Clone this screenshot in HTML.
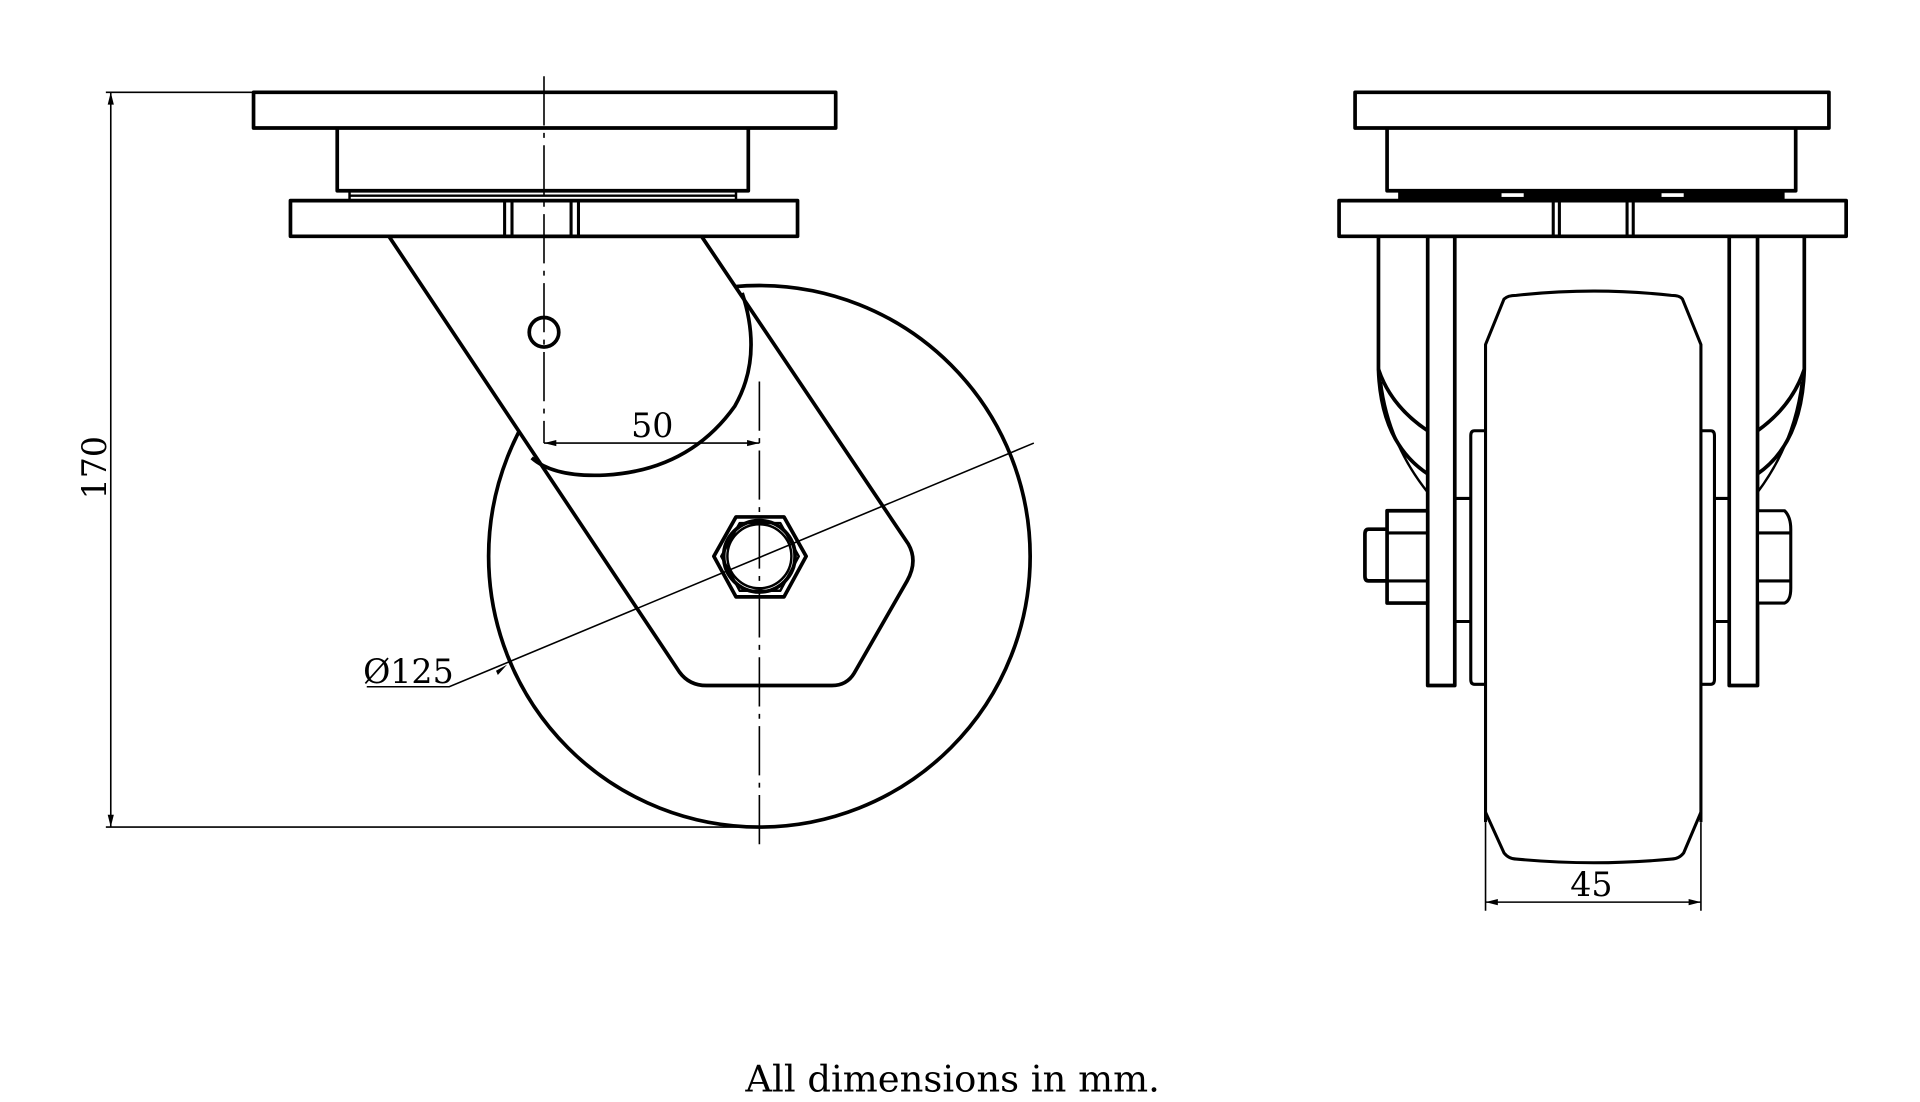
<!DOCTYPE html>
<html><head><meta charset="utf-8"><style>
html,body{margin:0;padding:0;background:#fff;}
svg{display:block;}
text{font-family:"DejaVu Serif","Liberation Serif",serif;fill:#000;}
</style></head><body>
<svg width="1920" height="1102" viewBox="0 0 1560 895.4" preserveAspectRatio="none" xmlns="http://www.w3.org/2000/svg">
<g fill="none" stroke="#000" stroke-width="3" stroke-linejoin="round">
<!-- LEFT VIEW -->
<circle cx="617" cy="452" r="220"/>
<path d="M316,192 L552,546 Q560,557 574,557 L676,557 Q688,557 694,547 L737,472 Q746,456 738,442 L570,192 Z" fill="#fff"/>
<path d="M432,372 Q450,388 492,386 Q560,382 597,330 Q620,290 603,238"/>
<rect x="206" y="75" width="473" height="29" fill="#fff"/>
<path d="M274,104 L274,155 L608,155 L608,104"/>
<path d="M284,155 L284,162 M598,155 L598,162 M284,159 L598,159" stroke-width="2"/>
<rect x="236" y="163" width="412" height="29" fill="#fff"/>
<path d="M410,163 V192 M416,163 V192 M464,163 V192 M470,163 V192" stroke-width="2.5"/>
<circle cx="442" cy="270" r="12"/>
<polygon points="580,452 598,420 637,420 655,452 637,485 598,485" fill="#fff"/>
<polygon points="586,452 601,425 634,425 649,452 634,480 601,480" stroke-width="2"/>
<circle cx="617" cy="452" r="29"/>
<circle cx="617" cy="452" r="26" stroke-width="2"/>
</g>
<g fill="none" stroke="#000" stroke-width="1.3">
<path d="M442,62 V360" stroke-dasharray="40,6,4,6"/>
<path d="M617,310 V692" stroke-dasharray="40,6,4,6"/>
<path d="M442,360 H617"/>
<path d="M298,558 H365 L840,360"/>
<path d="M90,75 V672 M86,75 H206 M86,672 H617"/>
<path d="M1207,668 V740 M1382,668 V740 M1207,733 H1382"/>
</g>
<g fill="#000">
<path d="M442,360 l10,-2.5 v5 z M617,360 l-10,-2.5 v5 z"/>
<path d="M90,75 l-2.5,10 h5 z M90,672 l-2.5,-10 h5 z"/>
<path d="M1207,733 l10,-2.5 v5 z M1382,733 l-10,-2.5 v5 z"/>
<path d="M412,540 l-9,5 l1.5,3.5 z"/>
</g>
<text x="530" y="355" font-size="27" text-anchor="middle">50</text>
<text x="295" y="555" font-size="27">Ø125</text>
<text transform="translate(86,380) rotate(-90)" font-size="27" text-anchor="middle">170</text>
<text x="1293" y="728" font-size="27" text-anchor="middle">45</text>
<text x="774" y="887" font-size="30" text-anchor="middle">All dimensions in mm.</text>

<!-- RIGHT VIEW -->
<g fill="none" stroke="#000" stroke-width="3" stroke-linejoin="round">
<path d="M1120,192 V300 Q1122,360 1160,385 M1466,192 V300 Q1464,360 1428,385"/>
<path d="M1122,310 Q1128,360 1160,400 M1464,310 Q1458,360 1428,400" stroke-width="2"/>
<path d="M1120,300 Q1130,330 1160,350 M1466,300 Q1456,330 1428,350"/>
<rect x="1160" y="192" width="22" height="365" fill="#fff"/>
<rect x="1405" y="192" width="23" height="365" fill="#fff"/>
<path d="M1182,405 H1195 M1182,505 H1195 M1393,405 H1405 M1393,505 H1405" stroke-width="2.5"/>
<path d="M1207,350 H1198 Q1195,350 1195,354 V552 Q1195,556 1198,556 H1207 M1382,350 H1390 Q1393,350 1393,354 V552 Q1393,556 1390,556 H1382" stroke-width="2.5" fill="#fff"/>
<path d="M1207,668 V280 L1222,243 Q1225,240 1232,240 Q1295,233 1358,240 Q1365,240 1367,243 L1382,280 V668" fill="#fff" stroke-width="2.5"/>
<path d="M1207,660 L1222,693 Q1226,698 1232,698 Q1295,704 1358,698 Q1364,698 1368,693 L1382,660" stroke-width="2.5"/>
<rect x="1127" y="415" width="33" height="75" fill="#fff"/>
<path d="M1127,433 H1160 M1127,472 H1160" stroke-width="2.5"/>
<path d="M1127,430 H1112 Q1109,430 1109,434 V468 Q1109,472 1112,472 H1127" stroke-width="3"/>
<path d="M1428,415 H1450 Q1455,420 1455,430 V478 Q1455,488 1450,490 H1428 Z M1428,433 H1455 M1428,472 H1455" fill="#fff" stroke-width="2.5"/>
<rect x="1101" y="75" width="385" height="29" fill="#fff"/>
<path d="M1127,104 V155 H1459 V104"/>
<rect x="1136" y="155" width="314" height="8" fill="#000" stroke="none"/>
<rect x="1220" y="157" width="18" height="3" fill="#fff" stroke="none"/>
<rect x="1350" y="157" width="18" height="3" fill="#fff" stroke="none"/>
<rect x="1088" y="163" width="412" height="29" fill="#fff"/>
<path d="M1262,163 V192 M1267,163 V192 M1322,163 V192 M1327,163 V192" stroke-width="2.5"/>
</g>
</svg>
</body></html>
